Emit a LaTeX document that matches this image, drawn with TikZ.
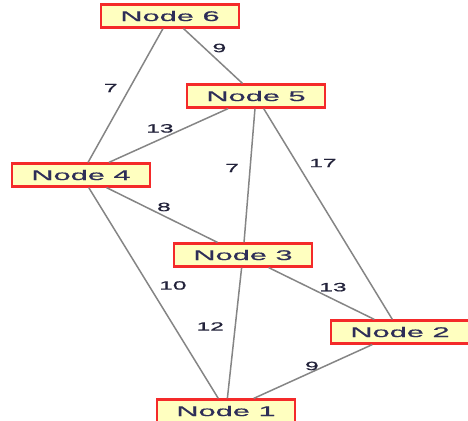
\documentclass[tikz,border=0pt]{standalone}
\usepackage{fontspec}
\usepackage{xcolor}
\usepackage{tikz}
\usetikzlibrary{calc}
\newfontfamily\boxfont[FakeStretch=2.2,FakeBold=0.7]{Liberation Sans}
\newfontfamily\labfont[FakeStretch=2.05,FakeBold=0.8]{Liberation Sans}
\definecolor{boxfill}{HTML}{FFFFC0}
\definecolor{boxline}{HTML}{F42A2A}
\definecolor{boxtext}{HTML}{2E2E58}
\definecolor{edgegray}{HTML}{858585}
\definecolor{labtext}{HTML}{22223A}
\tikzset{
  nodebox/.style={draw=boxline, line width=2.2pt, fill=boxfill, text=boxtext,
    minimum width=138pt, minimum height=23pt, inner sep=0pt,
    font=\fontsize{14}{15}\boxfont},
  edge/.style={draw=edgegray, line width=1.5pt},
  lab/.style={text=labtext, inner sep=0pt, font=\fontsize{12}{13}\labfont},
}
\begin{document}
\begin{tikzpicture}[x=1pt, y=-1pt]
  \useasboundingbox (0,0) rectangle (468,420);
  \node[nodebox] (n6) at (170,16) {Node 6};
  \node[nodebox] (n5) at (256,96) {Node 5};
  \node[nodebox] (n4) at (81,175) {Node 4};
  \node[nodebox] (n3) at (243,255) {Node 3};
  \node[nodebox] (n2) at (400,332) {Node 2};
  \node[nodebox] (n1) at (226,411) {Node 1};
  % edges
  \draw[edge] (n6) -- (n4);
  \draw[edge] (n6) -- (n5);
  \draw[edge] (n5) -- (n4);
  \draw[edge] (n5) -- (n3);
  \draw[edge] (n5) -- (n2);
  \draw[edge] (n4) -- (n3);
  \draw[edge] (n4) -- (n1);
  \draw[edge] (n3) -- (n2);
  \draw[edge] (n3) -- (n1);
  \draw[edge] (n2) -- (n1);
  % weights
  \node[lab] (w64) at ($(n6)!0.453!(n4)+(-19,0)$) {7};
  \node[lab] (w65) at ($(n6)!0.4!(n5)+(15,0)$) {9};
  \node[lab] (w54) at ($(n5)!0.549!(n4)+(0,-11)$) {13};
  \node[lab] (w53) at ($(n5)!0.453!(n3)+(-18,0)$) {7};
  \node[lab] (w52) at ($(n5)!0.284!(n2)+(26,0)$) {17};
  \node[lab] (w43) at ($(n4)!0.512!(n3)+(0,-9)$) {8};
  \node[lab] (w41) at ($(n4)!0.468!(n1)+(24,0)$) {10};
  \node[lab] (w32) at ($(n3)!0.573!(n2)+(0,-12)$) {13};
  \node[lab] (w31) at ($(n3)!0.458!(n1)+(-25,0)$) {12};
  \node[lab] (w21) at ($(n2)!0.506!(n1)+(0,-6)$) {9};
\end{tikzpicture}
\end{document}
